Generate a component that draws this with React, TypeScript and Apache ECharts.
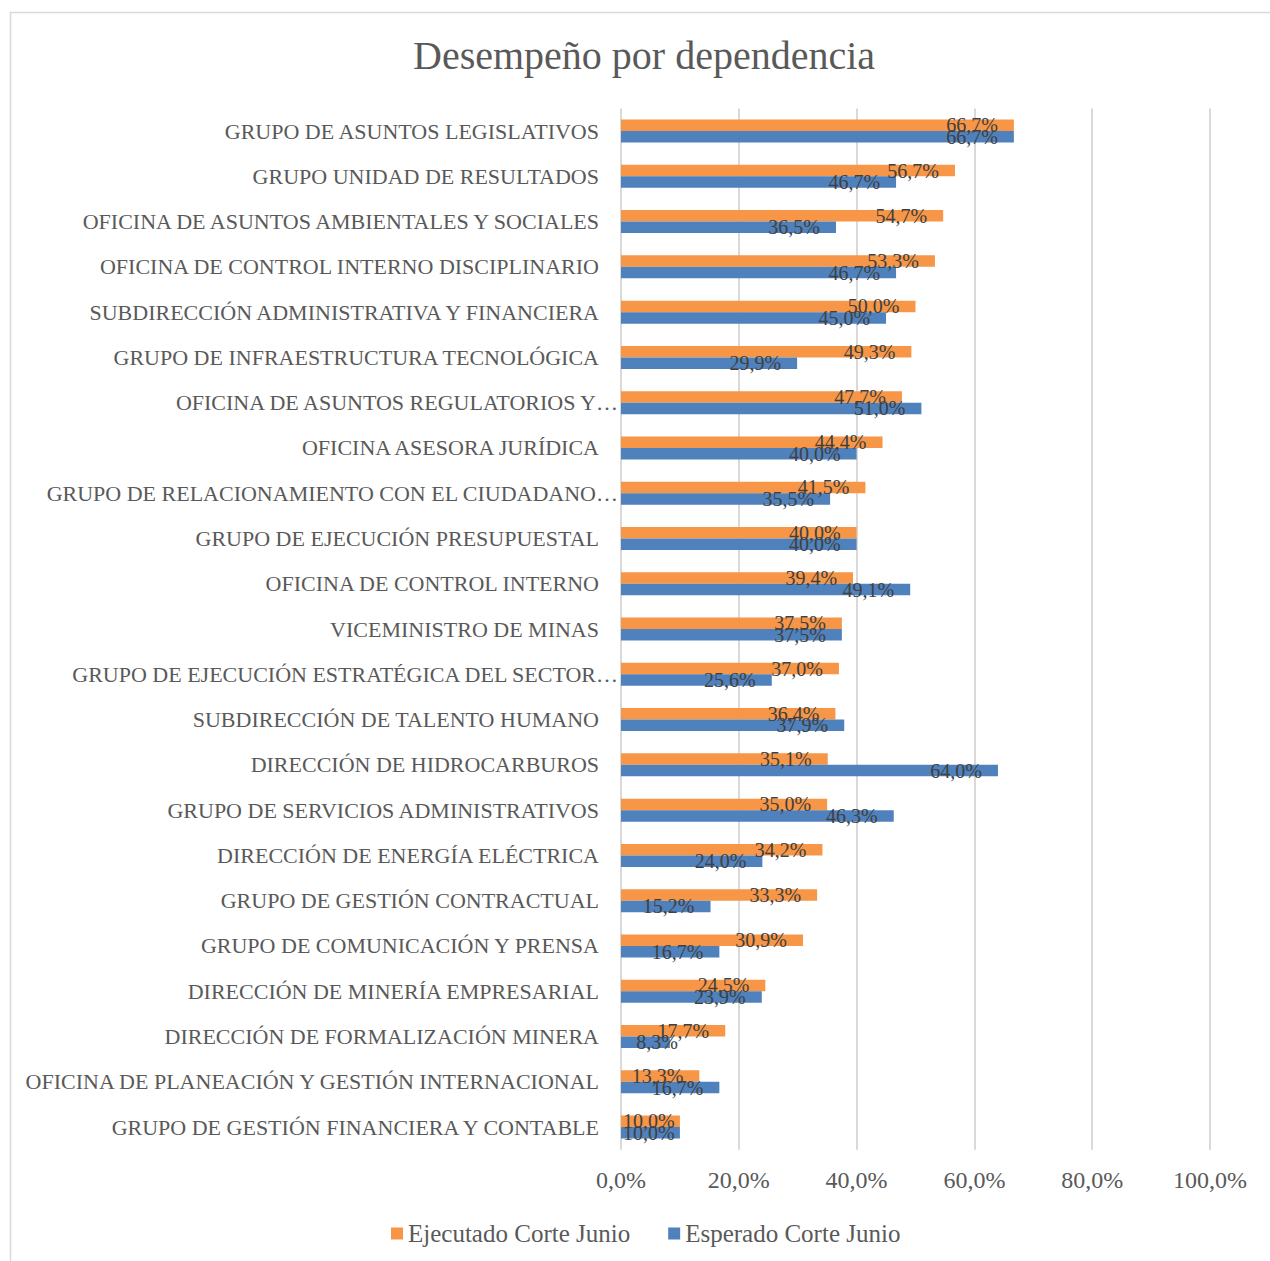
import React, { useEffect, useRef } from "react";
import * as echarts from "echarts";

const categories = [
  "GRUPO DE ASUNTOS LEGISLATIVOS",
  "GRUPO UNIDAD DE RESULTADOS",
  "OFICINA DE ASUNTOS AMBIENTALES Y SOCIALES",
  "OFICINA DE CONTROL INTERNO DISCIPLINARIO",
  "SUBDIRECCIÓN ADMINISTRATIVA Y FINANCIERA",
  "GRUPO DE INFRAESTRUCTURA TECNOLÓGICA",
  "OFICINA DE ASUNTOS REGULATORIOS Y…",
  "OFICINA ASESORA JURÍDICA",
  "GRUPO DE RELACIONAMIENTO CON EL CIUDADANO…",
  "GRUPO DE EJECUCIÓN PRESUPUESTAL",
  "OFICINA DE CONTROL INTERNO",
  "VICEMINISTRO DE MINAS",
  "GRUPO DE EJECUCIÓN ESTRATÉGICA DEL SECTOR…",
  "SUBDIRECCIÓN DE TALENTO HUMANO",
  "DIRECCIÓN DE HIDROCARBUROS",
  "GRUPO DE SERVICIOS ADMINISTRATIVOS",
  "DIRECCIÓN DE ENERGÍA ELÉCTRICA",
  "GRUPO DE GESTIÓN CONTRACTUAL",
  "GRUPO DE COMUNICACIÓN Y PRENSA",
  "DIRECCIÓN DE MINERÍA EMPRESARIAL",
  "DIRECCIÓN DE FORMALIZACIÓN MINERA",
  "OFICINA DE PLANEACIÓN Y GESTIÓN INTERNACIONAL",
  "GRUPO DE GESTIÓN FINANCIERA Y CONTABLE",
];

const ejecutado = [
  66.7, 56.7, 54.7, 53.3, 50.0, 49.3, 47.7, 44.4, 41.5, 40.0, 39.4, 37.5, 37.0,
  36.4, 35.1, 35.0, 34.2, 33.3, 30.9, 24.5, 17.7, 13.3, 10.0,
];

const esperado = [
  66.7, 46.7, 36.5, 46.7, 45.0, 29.9, 51.0, 40.0, 35.5, 40.0, 49.1, 37.5, 25.6,
  37.9, 64.0, 46.3, 24.0, 15.2, 16.7, 23.9, 8.3, 16.7, 10.0,
];

const xTicks = [0, 20, 40, 60, 80, 100];

const FONT = "'Liberation Serif', serif";
const fmt = (v: number) => v.toFixed(1).replace(".", ",") + "%";

// Excel-like "inside end" label placement, nudged for very short bars
const labelFor = (v: number) => {
  if (v < 9) return { position: "insideRight", distance: -8 };
  if (v <= 10.5) return { position: "insideLeft", distance: 2 };
  return undefined;
};

export default function App() {
  const ref = useRef<HTMLDivElement>(null);
  useEffect(() => {
    if (!ref.current) return;
    const chart = echarts.init(ref.current, undefined, { renderer: "svg" });
    const labelCfg = {
      show: true,
      position: "insideRight" as const,
      distance: 16,
      color: "#404040",
      fontSize: 20,
      fontFamily: FONT,
      formatter: (p: any) => fmt(p.value),
    };
    const toData = (arr: number[]) =>
      arr.map((v) => {
        const l = labelFor(v);
        return l ? { value: v, label: l } : v;
      });
    chart.setOption({
      animation: false,
      backgroundColor: "#ffffff",
      textStyle: { fontFamily: FONT },
      title: {
        text: "Desempeño por dependencia",
        left: 408,
        top: 30,
        textStyle: {
          fontFamily: FONT,
          fontSize: 40,
          fontWeight: "normal",
          color: "#595959",
        },
      },
      graphic: [
        {
          type: "rect",
          silent: true,
          shape: { x: 10.5, y: 12.5, width: 1300, height: 1300 },
          style: { fill: "none", stroke: "#d9d9d9", lineWidth: 1.5 },
        },
      ],
      legend: {
        left: 386,
        top: 1216,
        itemWidth: 12,
        itemHeight: 12,
        itemGap: 38,
        icon: "rect",
        textStyle: { fontFamily: FONT, fontSize: 25, color: "#595959" },
        data: ["Ejecutado Corte Junio", "Esperado Corte Junio"],
      },
      grid: {
        left: 621,
        right: 60,
        top: 108.4,
        bottom: 111.3,
        containLabel: false,
      },
      xAxis: {
        type: "value",
        min: xTicks[0],
        max: xTicks[xTicks.length - 1],
        interval: 20,
        axisLine: { show: false },
        axisTick: { show: false },
        splitLine: { show: true, lineStyle: { color: "#d9d9d9", width: 2 } },
        axisLabel: {
          margin: 18,
          fontFamily: FONT,
          fontSize: 24,
          color: "#595959",
          formatter: (v: number) => fmt(v),
        },
      },
      yAxis: {
        type: "category",
        data: categories,
        inverse: true,
        axisLine: { show: false },
        axisTick: { show: false },
        axisLabel: {
          margin: 3,
          fontFamily: FONT,
          fontSize: 22,
          color: "#595959",
          formatter: (v: string) => (v.endsWith("…") ? v : v + "{s| }"),
          rich: {
            s: { width: 19, fontSize: 22, fontFamily: FONT },
          },
        },
      },
      series: [
        {
          name: "Ejecutado Corte Junio",
          type: "bar",
          data: toData(ejecutado),
          barWidth: 11.5,
          barGap: "0%",
          itemStyle: { color: "#F79646" },
          label: labelCfg,
        },
        {
          name: "Esperado Corte Junio",
          type: "bar",
          data: toData(esperado),
          barWidth: 11.5,
          barGap: "0%",
          itemStyle: { color: "#4F81BD" },
          label: labelCfg,
        },
      ],
    });
    return () => chart.dispose();
  }, []);
  return (
    <div
      ref={ref}
      style={{ position: "absolute", left: 0, top: 0, width: 1270, height: 1261 }}
    />
  );
}
